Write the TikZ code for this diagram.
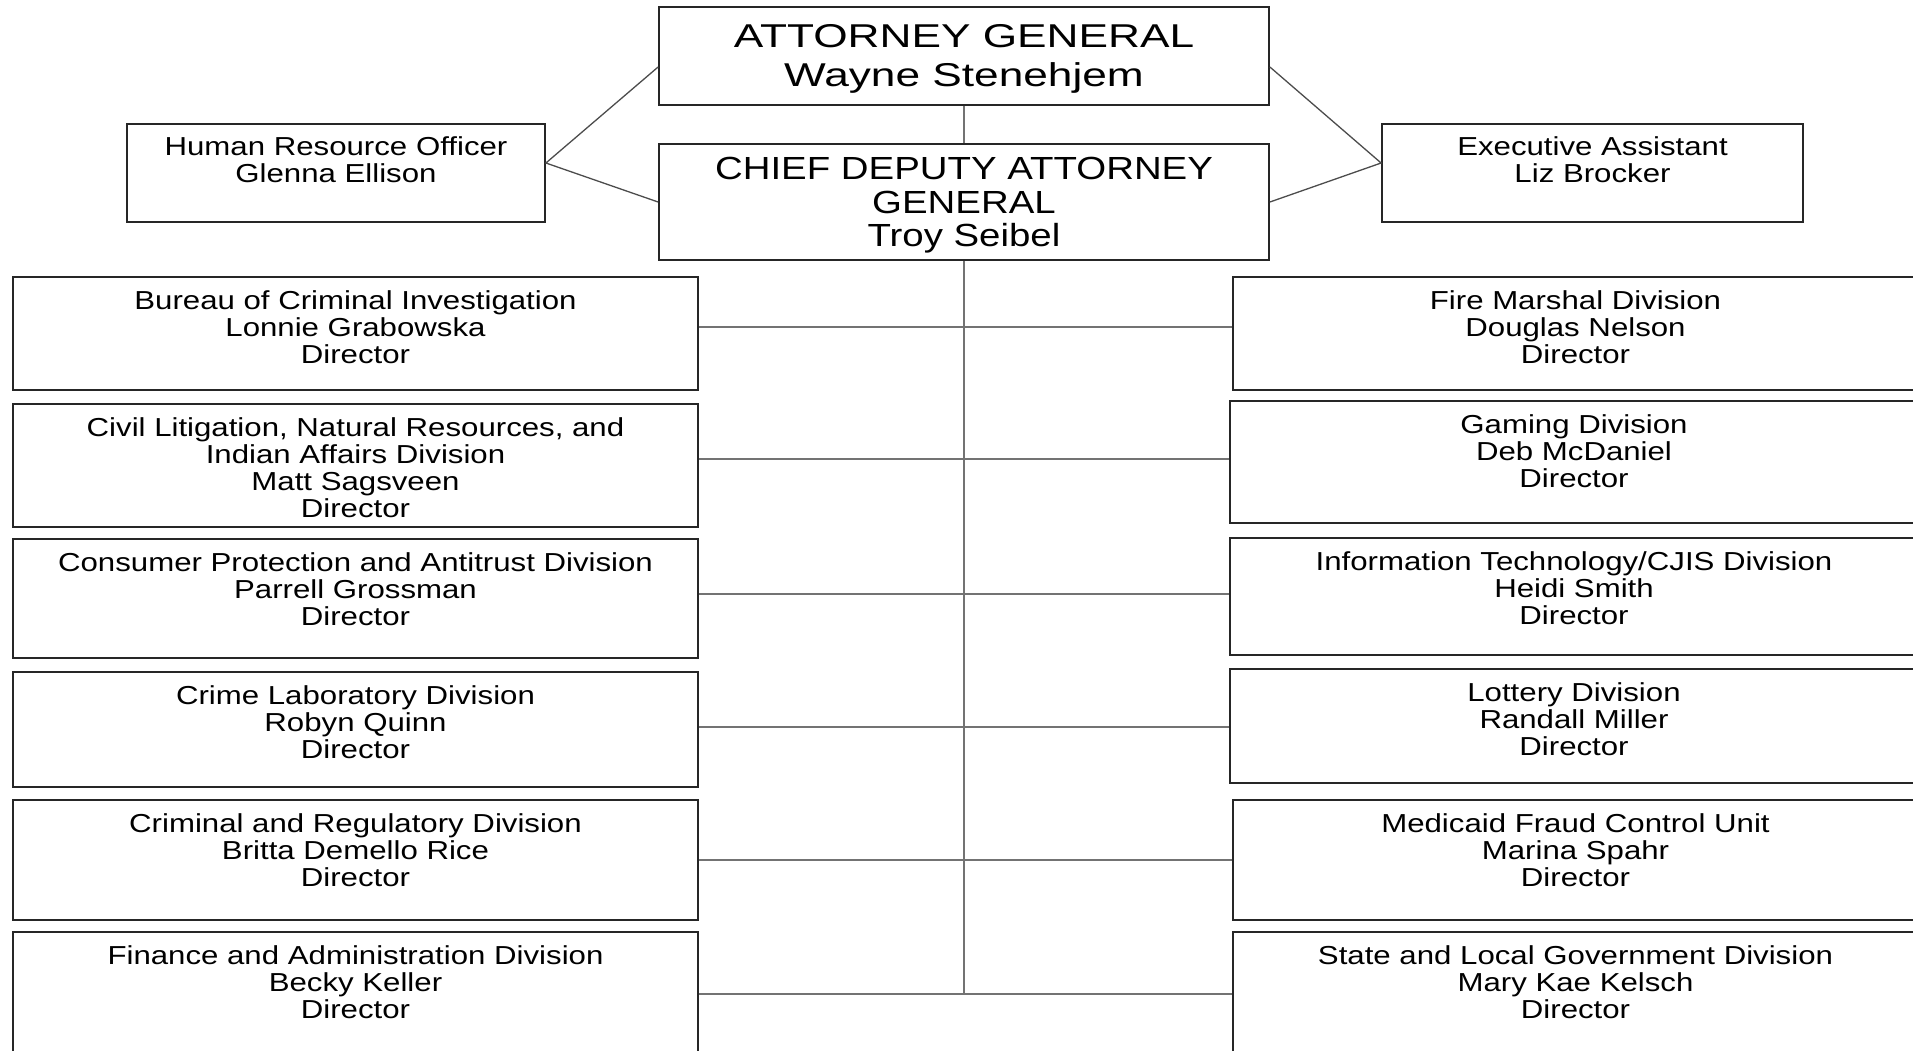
\documentclass[tikz,border=0pt]{standalone}
\usepackage{fontspec}
\setmainfont{Liberation Sans}[FakeStretch=1.2]
\newfontfamily\agfont{Liberation Sans}[FakeStretch=1.34]
\usetikzlibrary{positioning}

\tikzset{
    unit/.style={draw=black!85, line width=1.8pt, inner sep=0pt},
    unittext/.style={inner sep=0pt, align=center, font=\fontsize{26}{27}\selectfont},
    link/.style={draw=black!55, line width=1.6pt},
    slant/.style={draw=black!70, line width=1.3pt}
}

\begin{document}
\begin{tikzpicture}[x=1pt, y=-1pt]
    \clip (0,0) rectangle (1913,1050);
    % attorney general and staff
    \node[unit, minimum width=610pt, minimum height=98pt] (ag) at (964,56) {};
    \node[unittext, font=\agfont\fontsize{33}{39}\selectfont, below=18pt of ag.north] (ag-t) {ATTORNEY GENERAL\\Wayne Stenehjem};
    \node[unit, minimum width=610pt, minimum height=116pt] (cdag) at (964,202) {};
    \node[unittext, font=\fontsize{32}{33.5}\selectfont, below=14pt of cdag.north] (cdag-t) {CHIEF DEPUTY ATTORNEY\\GENERAL\\Troy Seibel};
    \node[unit, minimum width=418pt, minimum height=98pt] (hr) at (336,173) {};
    \node[unittext, below=13pt of hr.north] (hr-t) {Human Resource Officer\\Glenna Ellison};
    \node[unit, minimum width=421pt, minimum height=98pt] (ea) at (1592.5,173) {};
    \node[unittext, below=13pt of ea.north] (ea-t) {Executive Assistant\\Liz Brocker};

    \draw[link] (ag) -- (cdag);
    \draw[slant] ([yshift=-11pt]ag.west) -- ([yshift=10pt]hr.east) -- (cdag.west);
    \draw[slant] ([yshift=-11pt]ag.east) -- ([yshift=10pt]ea.west) -- (cdag.east);

    % divisions, left column
    \foreach \n/\y/\h/\t in {
        1/333.5/113/{Bureau of Criminal Investigation\\Lonnie Grabowska\\Director},
        2/465.5/123/{Civil Litigation, Natural Resources, and\\Indian Affairs Division\\Matt Sagsveen\\Director},
        3/598.5/119/{Consumer Protection and Antitrust Division\\Parrell Grossman\\Director},
        4/729.5/115/{Crime Laboratory Division\\Robyn Quinn\\Director},
        5/860/120/{Criminal and Regulatory Division\\Britta Demello Rice\\Director},
        6/992/120/{Finance and Administration Division\\Becky Keller\\Director}} {
        \node[unit, minimum width=685pt, minimum height=\h pt] (l\n) at (355.5,\y) {};
        \node[unittext, below=14pt of l\n.north] (l\n-t) {\t};
    }

    % divisions, right column
    \foreach \n/\x/\w/\y/\h/\t in {
        1/1575.5/685/333.5/113/{Fire Marshal Division\\Douglas Nelson\\Director},
        2/1574/688/462/122/{Gaming Division\\Deb McDaniel\\Director},
        3/1574/688/596.5/117/{Information Technology/CJIS Division\\Heidi Smith\\Director},
        4/1574/688/726/114/{Lottery Division\\Randall Miller\\Director},
        5/1575.5/685/860/120/{Medicaid Fraud Control Unit\\Marina Spahr\\Director},
        6/1575.5/685/992/120/{State and Local Government Division\\Mary Kae Kelsch\\Director}} {
        \node[unit, minimum width=\w pt, minimum height=\h pt] (r\n) at (\x,\y) {};
        \node[unittext, below=14pt of r\n.north] (r\n-t) {\t};
    }

    % connectors
    \foreach \n/\dy in {1/6.5, 2/6.5, 3/4.5, 4/2.5, 5/0, 6/-2} {
        \draw[link] ([yshift=\dy pt]l\n.east) coordinate (s\n) -- (s\n -| r\n.west);
    }
    \draw[link] (cdag) -- (cdag.south |- s6);
\end{tikzpicture}
\end{document}
